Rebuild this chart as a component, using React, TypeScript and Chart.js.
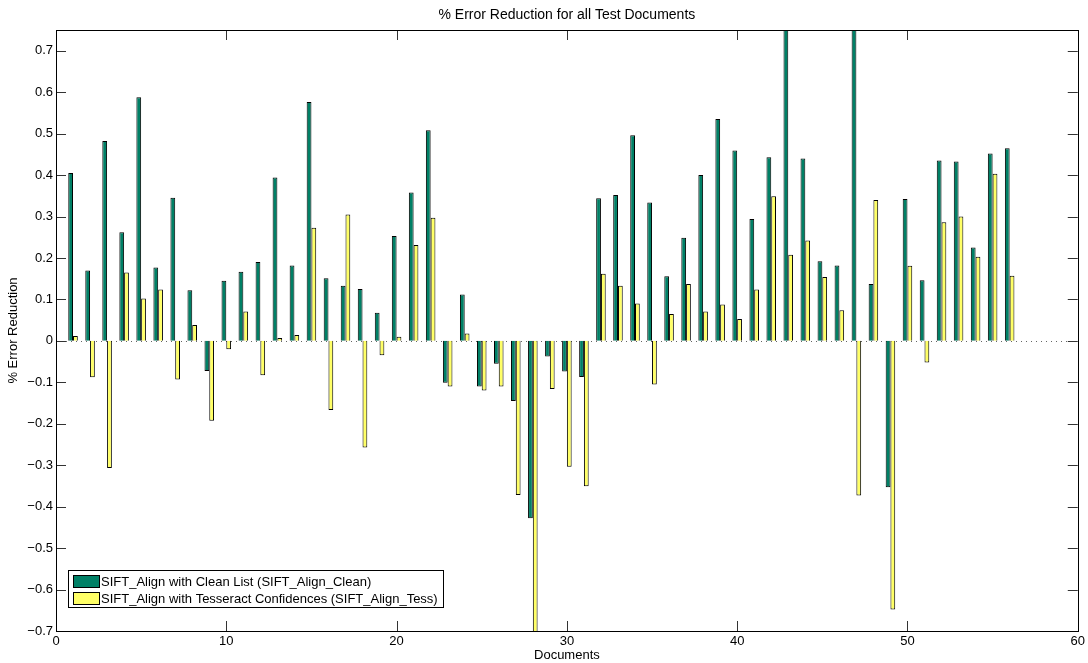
import React, { useEffect, useRef } from "react";
import { Chart, registerables } from "chart.js";

Chart.register(...registerables);

const documents = [1, 2, 3, 4, 5, 6, 7, 8, 9, 10, 11, 12, 13, 14, 15, 16, 17, 18, 19, 20, 21, 22, 23, 24, 25, 26, 27, 28, 29, 30, 31, 32, 33, 34, 35, 36, 37, 38, 39, 40, 41, 42, 43, 44, 45, 46, 47, 48, 49, 50, 51, 52, 53, 54, 55, 56];

const cleanValues = [
  0.405, 0.17, 0.482, 0.262, 0.588, 0.177, 0.345, 0.122, -0.073, 0.145,
  0.167, 0.19, 0.394, 0.182, 0.576, 0.151, 0.133, 0.125, 0.068, 0.253,
  0.358, 0.508, -0.101, 0.112, -0.11, -0.055, -0.145, -0.428, -0.038, -0.074,
  -0.087, 0.344, 0.352, 0.496, 0.334, 0.156, 0.249, 0.4, 0.535, 0.459,
  0.294, 0.443, 0.8, 0.44, 0.192, 0.182, 0.8, 0.137, -0.353, 0.342,
  0.146, 0.435, 0.433, 0.225, 0.452, 0.465,
];

const tessValues = [
  0.012, -0.088, -0.307, 0.165, 0.102, 0.124, -0.093, 0.038, -0.193, -0.02,
  0.071, -0.083, 0.007, 0.014, 0.273, -0.167, 0.305, -0.257, -0.035, 0.01,
  0.231, 0.297, -0.11, 0.018, -0.12, -0.11, -0.372, -0.8, -0.116, -0.304,
  -0.351, 0.162, 0.133, 0.09, -0.105, 0.065, 0.137, 0.071, 0.088, 0.053,
  0.124, 0.349, 0.208, 0.242, 0.154, 0.074, -0.373, 0.34, -0.648, 0.181,
  -0.052, 0.286, 0.3, 0.203, 0.403, 0.157,
];

const yTickValues = [-0.7, -0.6, -0.5, -0.4, -0.3, -0.2, -0.1, 0, 0.1, 0.2, 0.3, 0.4, 0.5, 0.6, 0.7];
const xTickValues = [0, 10, 20, 30, 40, 50, 60];

const seriesLabels = [
  "SIFT_Align with Clean List (SIFT_Align_Clean)",
  "SIFT_Align with Tesseract Confidences (SIFT_Align_Tess)",
];
const chartTitle = "% Error Reduction for all Test Documents";
const xTitle = "Documents";
const yTitle = "% Error Reduction";

const GREEN = "rgb(0,128,102)";
const YELLOW = "rgb(255,255,102)";
const FONT = "'Liberation Sans', Arial, Helvetica, sans-serif";

const fmt = (v: number) => {
  const s = String(Number(Number(v).toFixed(1)));
  return s.startsWith("-") ? "\u2212" + s.slice(1) : s;
};

const matlabPlugin = {
  id: "matlabStyle",
  beforeDatasetsDraw(chart: any) {
    const { ctx, chartArea } = chart;
    const y0 = chart.scales.y.getPixelForValue(0);
    ctx.save();
    ctx.strokeStyle = "#666";
    ctx.lineWidth = 1;
    ctx.setLineDash([1, 4]);
    ctx.beginPath();
    ctx.moveTo(chartArea.left, Math.round(y0) + 0.5);
    ctx.lineTo(chartArea.right, Math.round(y0) + 0.5);
    ctx.stroke();
    ctx.restore();
  },
  afterDatasetsDraw(chart: any) {
    const { ctx, chartArea } = chart;
    const { left, right, top, bottom } = chartArea;
    const xs = chart.scales.x;
    const ys = chart.scales.y;
    ctx.save();
    ctx.setLineDash([]);
    ctx.strokeStyle = "#333";
    ctx.lineWidth = 1;
    const tl = 10;
    ctx.beginPath();
    ys.ticks.forEach((t: any) => {
      const py = Math.round(ys.getPixelForValue(t.value)) + 0.5;
      ctx.moveTo(left, py);
      ctx.lineTo(left + tl, py);
      ctx.moveTo(right, py);
      ctx.lineTo(right - tl, py);
    });
    xs.ticks.forEach((t: any) => {
      const px = Math.round(xs.getPixelForValue(t.value)) + 0.5;
      ctx.moveTo(px, bottom);
      ctx.lineTo(px, bottom - tl);
      ctx.moveTo(px, top);
      ctx.lineTo(px, top + tl);
    });
    ctx.stroke();
    ctx.strokeStyle = "#000";
    ctx.lineWidth = 1;
    ctx.strokeRect(Math.round(left) + 0.5, Math.round(top) + 0.5, Math.round(right - left), Math.round(bottom - top));
    ctx.fillStyle = "#000";
    ctx.font = `14px ${FONT}`;
    ctx.textAlign = "center";
    ctx.textBaseline = "middle";
    ctx.fillText(chartTitle, (left + right) / 2, 15);
    const lx = 68, ly = 570, lw = 375, lh = 37;
    ctx.fillStyle = "#fff";
    ctx.fillRect(lx, ly, lw, lh);
    ctx.strokeStyle = "#000";
    ctx.strokeRect(lx + 0.5, ly + 0.5, lw, lh);
    ctx.font = `13px ${FONT}`;
    ctx.textAlign = "left";
    chart.data.datasets.forEach((ds: any, i: number) => {
      const sy = ly + 5 + i * 17;
      ctx.fillStyle = ds.backgroundColor;
      ctx.fillRect(lx + 5, sy, 26, 12);
      ctx.strokeStyle = "#000";
      ctx.strokeRect(lx + 5.5, sy + 0.5, 26, 12);
      ctx.fillStyle = "#000";
      ctx.fillText(ds.label, lx + 33, sy + 7);
    });
    ctx.restore();
  },
};

export default function App() {
  const ref = useRef<HTMLCanvasElement | null>(null);
  useEffect(() => {
    if (!ref.current) return;
    const chart = new Chart(ref.current, {
      type: "bar",
      data: {
        datasets: [
          {
            label: seriesLabels[0],
            data: documents.map((d, i) => ({ x: d, y: cleanValues[i] })),
            backgroundColor: GREEN,
            borderColor: "#000",
            borderWidth: 1,
            categoryPercentage: 0.56,
            barPercentage: 1,
          },
          {
            label: seriesLabels[1],
            data: documents.map((d, i) => ({ x: d, y: tessValues[i] })),
            backgroundColor: YELLOW,
            borderColor: "#000",
            borderWidth: 1,
            categoryPercentage: 0.56,
            barPercentage: 1,
          },
        ],
      },
      options: {
        animation: false,
        responsive: false,
        layout: { padding: { top: 30, right: 8, left: 0, bottom: 0 } },
        plugins: {
          legend: { display: false },
          title: { display: false },
          tooltip: { enabled: false },
        },
        scales: {
          x: {
            type: "linear",
            min: 0,
            max: 60,
            offset: false,
            grid: { display: false, drawTicks: false },
            border: { display: false },
            afterBuildTicks(scale: any) {
              scale.ticks = xTickValues.map((v) => ({ value: v }));
            },
            ticks: {
              padding: 3,
              color: "#000",
              font: { family: FONT, size: 13 },
              maxRotation: 0,
              autoSkip: false,
            },
            title: {
              display: true,
              text: xTitle,
              color: "#000",
              font: { family: FONT, size: 13 },
              padding: { top: 0, bottom: 0 },
            },
            afterFit(scale: any) {
              scale.height = 32;
            },
          },
          y: {
            min: -0.7,
            max: 0.75,
            grid: { display: false, drawTicks: false },
            border: { display: false },
            afterBuildTicks(scale: any) {
              scale.ticks = yTickValues.map((v) => ({ value: v }));
            },
            ticks: {
              padding: 3,
              color: "#000",
              autoSkip: false,
              font: { family: FONT, size: 13 },
              callback: (v: any) => fmt(v),
            },
            title: {
              display: true,
              text: yTitle,
              color: "#000",
              font: { family: FONT, size: 13 },
              padding: { top: 6, bottom: 0 },
            },
            afterFit(scale: any) {
              scale.width = 56;
            },
          },
        },
      } as any,
      plugins: [matlabPlugin],
    });
    return () => chart.destroy();
  }, []);
  return (
    <div style={{ position: "absolute", left: 0, top: 0, width: 1088, height: 663, background: "#fff" }}>
      <canvas ref={ref} width={1088} height={663} />
    </div>
  );
}
